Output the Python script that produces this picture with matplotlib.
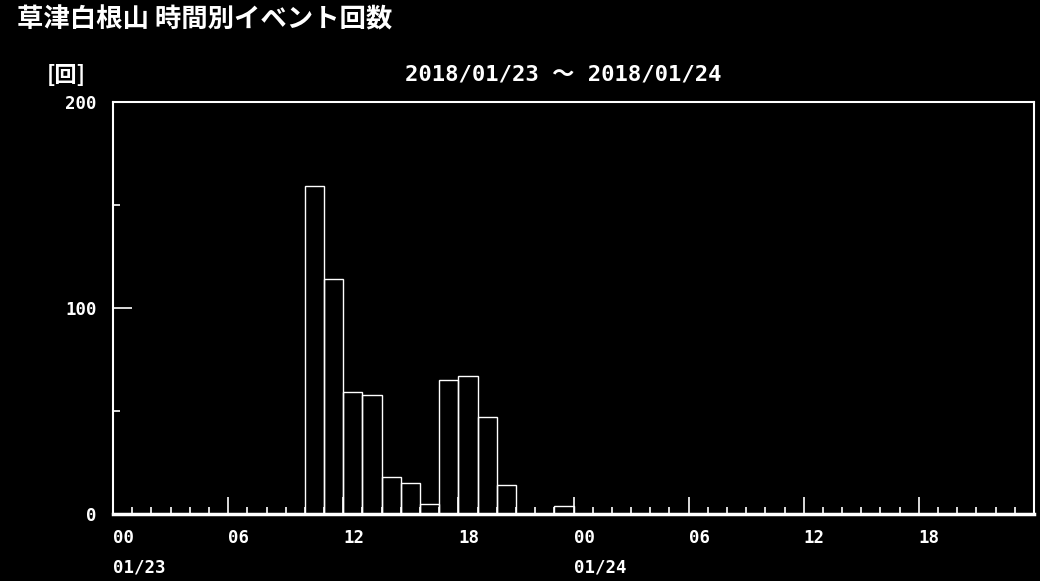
import matplotlib
matplotlib.use("Agg")
import matplotlib.pyplot as plt
import numpy as np

# hourly event counts, 2018/01/23 00h .. 2018/01/24 23h
hours = list(range(48))
counts = [0] * 48
busy = {10: 159, 11: 114, 12: 59, 13: 58, 14: 18, 15: 15, 16: 5,
        17: 65, 18: 67, 19: 47, 20: 14, 23: 4}
for h, c in busy.items():
    counts[h] = c

hour_ticks = [0, 6, 12, 18, 24, 30, 36, 42]
hour_labels = ["00", "06", "12", "18", "00", "06", "12", "18"]
day_pos = [0, 24]
day_labels = ["01/23", "01/24"]
y_ticks = [0, 100, 200]

title = "草津白根山 時間別イベント回数"
unit = "[回]"
period = "2018/01/23 ～ 2018/01/24"

mono = ["DejaVu Sans Mono", "Noto Sans CJK JP"]
cjk = ["Noto Sans CJK JP", "DejaVu Sans"]
fg = "white"
bg = "black"

fig = plt.figure(figsize=(10.4, 5.81), dpi=100, facecolor=bg)
ax = fig.add_axes([0.1087, 0.1153, 0.9942 - 0.1087, 0.8244 - 0.1153], facecolor=bg)

ax.bar(hours, counts, width=1.0, align="edge", fill=False,
       edgecolor=fg, linewidth=1.0)

ax.set_xlim(0, 48)
ax.set_ylim(0, 200)

for side in ["left", "right", "top"]:
    ax.spines[side].set_color(fg)
    ax.spines[side].set_linewidth(1.5)
ax.spines["bottom"].set_color(fg)
ax.spines["bottom"].set_linewidth(2.5)

ax.set_xticks(hour_ticks)
ax.set_xticklabels(hour_labels, family=mono, fontsize=12.5, color=fg,
                   ha="left", fontweight="bold")
ax.set_xticks(hours, minor=True)
ax.tick_params(axis="x", which="major", direction="in", length=12, width=1.2,
               color=fg, pad=11)
ax.tick_params(axis="x", which="minor", direction="in", length=5, width=1.2,
               color=fg)

ax.set_yticks(y_ticks)
ax.set_yticklabels([str(v) for v in y_ticks], family=mono, fontsize=12.5,
                   color=fg, fontweight="bold")
ax.set_yticks([50, 150], minor=True)
ax.tick_params(axis="y", which="major", direction="in", length=14, width=1.2,
               color=fg, pad=12)
ax.tick_params(axis="y", which="minor", direction="in", length=5, width=1.2,
               color=fg)

for x, lab in zip(day_pos, day_labels):
    ax.text(x, -0.13, lab, transform=ax.get_xaxis_transform(), ha="left",
            va="center", color=fg, family=mono, fontsize=12.5, fontweight="bold")

fig.text(17 / 1040, 1 - 20 / 581, title, ha="left", va="center", color=fg,
         family=cjk, fontsize=19, fontweight="bold")
fig.text(66 / 1040, 1 - 75 / 581, unit, ha="center", va="center", color=fg,
         family=cjk, fontsize=16, fontweight="bold")
fig.text(563 / 1040, 1 - 75 / 581, period, ha="center", va="center", color=fg,
         family=mono, fontsize=16, fontweight="bold")

fig.savefig("out.png", dpi=100, facecolor=bg)
